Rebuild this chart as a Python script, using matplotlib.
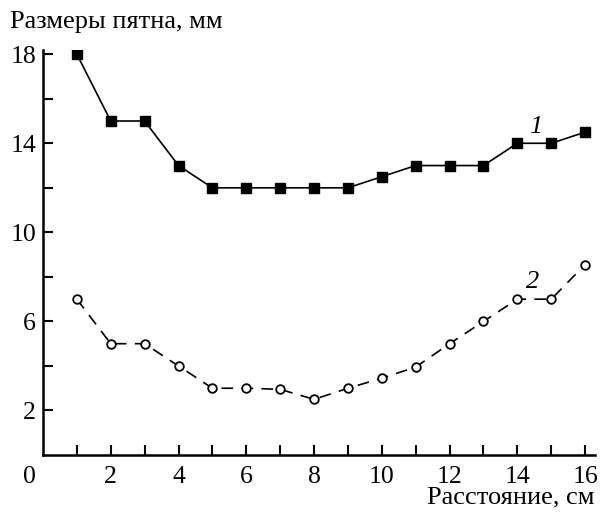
import numpy as np
import matplotlib.pyplot as plt

plt.rcParams['font.family'] = ['Liberation Serif', 'DejaVu Serif']

# distance, cm
dist = np.arange(1, 17)
# spot size, mm
size1 = [18, 15, 15, 13, 12, 12, 12, 12, 12, 12.5, 13, 13, 13, 14, 14, 14.5]
size2 = [7, 5, 5, 4, 3, 3, 2.95, 2.5, 3, 3.45, 3.95, 5, 6, 7, 7, 8.55]

xticks = [2, 4, 6, 8, 10, 12, 14, 16]
yticks = [2, 6, 10, 14, 18]

fig = plt.figure(figsize=(6.01, 5.13), dpi=100)
ax = fig.add_axes([0.0715, 0.113, 0.919, 0.79])

ax.plot(dist, size1, color='black', lw=1.2, marker='s', ms=7.2,
        mfc='black', mec='black')
ax.plot(dist, size2, color='black', lw=1.2, ls=(0, (7, 5)), marker='o', ms=6.2,
        mfc='white', mec='black', mew=1.3)

ax.text(14.55, 14.75, '1', style='italic', fontsize=19, ha='center', va='center')
ax.text(14.45, 7.75, '2', style='italic', fontsize=19, ha='center', va='center')

ax.set_xlim(0, 16.3)
ax.set_ylim(0, 18.2)
ax.spines['top'].set_visible(False)
ax.spines['right'].set_visible(False)
ax.spines['left'].set_linewidth(1.8)
ax.spines['bottom'].set_linewidth(1.8)

ax.set_xticks(range(1, 17), minor=True)
ax.set_xticks(xticks)
ax.set_yticks(range(2, 19, 2), minor=True)
ax.set_yticks(yticks)
ax.tick_params(which='both', direction='in', width=1.5, length=7, labelsize=18.5)
ax.tick_params(axis='x', pad=8)
ax.tick_params(axis='y', pad=5)

# corner zero label
ax.annotate('0', xy=(-0.4, 0), xycoords=('data', 'axes fraction'),
            xytext=(0, -8), textcoords='offset points',
            fontsize=18.5, ha='center', va='top', annotation_clip=False)
fig.text(0.017, 0.957, 'Размеры пятна, мм', fontsize=19, ha='left', va='center')
fig.text(0.99, 0.031, 'Расстояние, см', fontsize=19, ha='right', va='center')

fig.savefig('out.png', dpi=100)
